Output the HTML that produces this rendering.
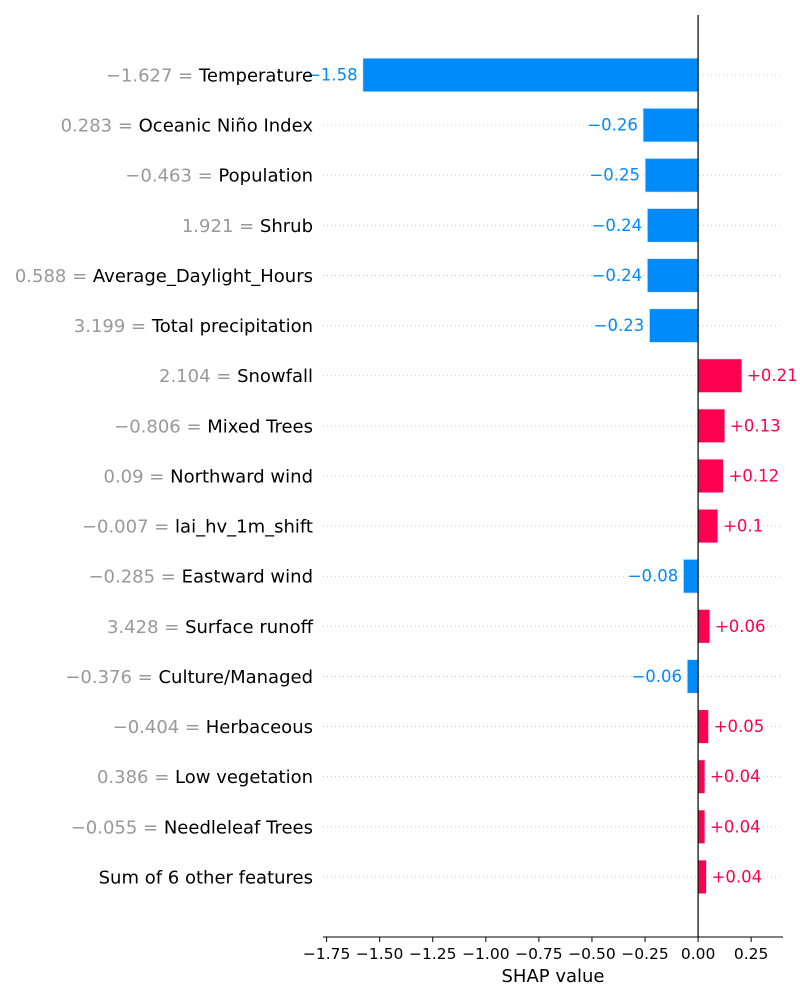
<!DOCTYPE html>
<html><head><meta charset="utf-8"><style>
body{margin:0;background:#fff;}
svg text{font-family:"DejaVu Sans","Liberation Sans",sans-serif;}
</style></head><body>
<svg id="chart" width="800" height="1000" xmlns="http://www.w3.org/2000/svg"></svg>
<script>
const featureValues=["−1.627","0.283","−0.463","1.921","0.588","3.199","2.104","−0.806","0.09","−0.007","−0.285","3.428","−0.376","−0.404","0.386","−0.055",""];
const featureNames=["Temperature","Oceanic Niño Index","Population","Shrub","Average_Daylight_Hours","Total precipitation","Snowfall","Mixed Trees","Northward wind","lai_hv_1m_shift","Eastward wind","Surface runoff","Culture/Managed","Herbaceous","Low vegetation","Needleleaf Trees","Sum of 6 other features"];
const shapValues=[-1.58,-0.26,-0.25,-0.24,-0.24,-0.23,0.207,0.127,0.12,0.094,-0.07,0.056,-0.052,0.05,0.033,0.033,0.04];
const valueLabels=["−1.58","−0.26","−0.25","−0.24","−0.24","−0.23","+0.21","+0.13","+0.12","+0.1","−0.08","+0.06","−0.06","+0.05","+0.04","+0.04","+0.04"];
const tickValues=[-1.75,-1.5,-1.25,-1,-0.75,-0.5,-0.25,0,0.25];
const tickLabels=["−1.75","−1.50","−1.25","−1.00","−0.75","−0.50","−0.25","0.00","0.25"];

const NS="http://www.w3.org/2000/svg";
const svg=document.getElementById('chart');
const x0=323,x1=783,dmin=-1.767,dmax=0.40;
const xs=v=>x0+(v-dmin)/(dmax-dmin)*(x1-x0);
const ys=i=>75+i*50.12;
function mk(t,a,p){const e=document.createElementNS(NS,t);for(const k in a)e.setAttribute(k,a[k]);(p||svg).appendChild(e);return e;}

shapValues.forEach((v,i)=>{
  const y=ys(i);
  const g=mk('line',{x1:x0,x2:x1,y1:y,y2:y,stroke:'#ccc','stroke-width':1,'stroke-dasharray':'1,3'});
  
  
});
shapValues.forEach((v,i)=>{
  const y=ys(i);
  const col=v<0?'#008bfb':'#ff0051';
  const a=xs(0),b=xs(v);
  const r=mk('rect',{x:Math.min(a,b),y:y-17,width:Math.abs(b-a),height:34,fill:col,stroke:'#e8f0fa','stroke-width':1});
  
  
  const t=mk('text',{x:v<0?b-5:b+5,y:y+5.5,'font-size':16.5,fill:col,'text-anchor':v<0?'end':'start'});
  t.textContent=valueLabels[i];
  
  
  const l=mk('text',{x:313,y:y+6.5,'font-size':18,'text-anchor':'end'});
  
  
  if(featureValues[i]){const s=mk('tspan',{fill:'#999'},l);s.textContent=featureValues[i]+" = ";}
  const s2=mk('tspan',{fill:'#000'},l);s2.textContent=featureNames[i];
});
const zl=mk('line',{x1:xs(0),x2:xs(0),y1:15,y2:937,stroke:'#000','stroke-width':1.2});


const ax=mk('line',{x1:x0,x2:x1,y1:937,y2:937,stroke:'#000','stroke-width':1});


tickValues.forEach((v,i)=>{
  const tk=mk('line',{x1:xs(v),x2:xs(v),y1:937,y2:942,stroke:'#000'});
  
  
  const t=mk('text',{x:xs(v),y:959,'font-size':15.5,'text-anchor':'middle'});
  t.textContent=tickLabels[i];
  
  
});
const xt=mk('text',{x:553,y:982,'font-size':18,'text-anchor':'middle'});
xt.textContent="SHAP value";


</script>
</body></html>
